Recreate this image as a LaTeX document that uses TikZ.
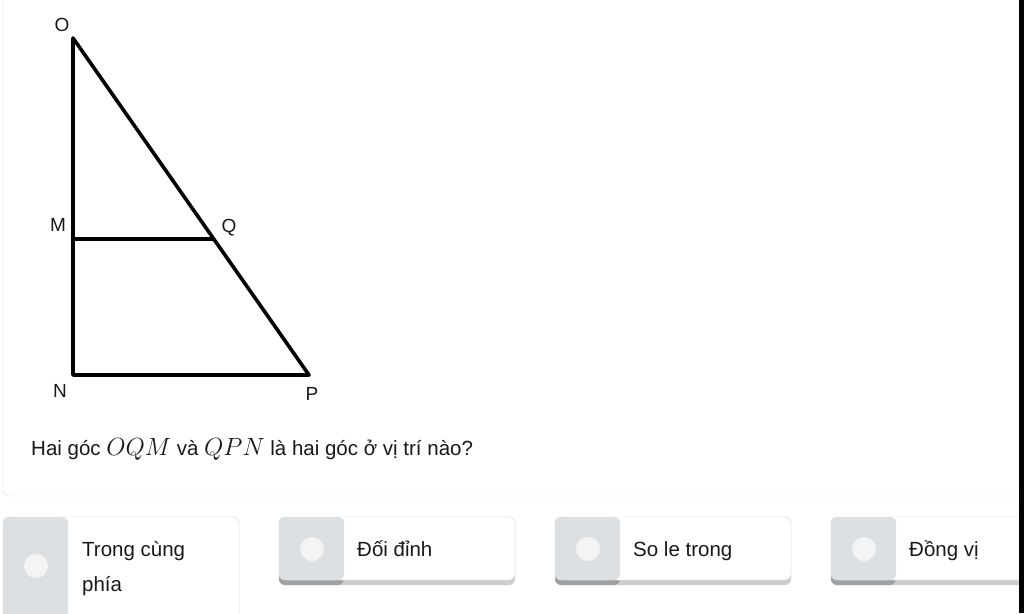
\documentclass[tikz,border=0pt]{standalone}
\usepackage{fontspec}
\setmainfont{Liberation Sans}
\usetikzlibrary{positioning}

\definecolor{panelline}{RGB}{218,218,218}
\definecolor{tabgray}{RGB}{221,224,227}
\definecolor{shadelight}{RGB}{205,205,205}
\definecolor{shadedark}{RGB}{160,160,160}
\definecolor{dotfill}{RGB}{244,244,244}
\definecolor{ink}{RGB}{25,25,25}

\tikzset{
  edge/.style={line width=3.6pt, line join=round},
  vlabel/.style={font=\fontsize{19}{21}\selectfont, inner sep=0pt, text=ink},
  answer/.style={anchor=base west, inner sep=0pt, font=\fontsize{20.5}{24}\selectfont, text=ink},
  dot/.style={circle, fill=dotfill, minimum size=24pt, inner sep=0pt},
  btn/.style={rounded corners=6pt, draw=panelline, fill=white,
    path picture={\fill[tabgray] (path picture bounding box.north west) rectangle ([xshift=65pt]path picture bounding box.south west);}},
  btnshade/.style={rounded corners=6pt, fill=shadelight,
    path picture={\fill[shadedark] (path picture bounding box.north west) rectangle ([xshift=65pt]path picture bounding box.south west);}}
}

\begin{document}
\begin{tikzpicture}[x=1pt,y=-1pt]
\clip (0,0) rectangle (1024,613);
\fill[white] (0,0) rectangle (1024,613);
\def\bw{236}
\def\bh{63}

% triangle
\coordinate (O) at (73,38);
\coordinate (M) at (73,239);
\coordinate (Q) at (213,239);
\coordinate (N) at (73,375);
\coordinate (P) at (309,375);
\draw[edge] (O) -- (N) -- (P) -- cycle;
\draw[edge] (M) -- (Q);
\node[vlabel] (lO) at (62,25) {O};
\node[vlabel] (lM) at (58,225) {M};
\node[vlabel] (lQ) at (229,228) {Q};
\node[vlabel] (lN) at (60,391) {N};
\node[vlabel] (lP) at (312,394) {P};

% question panel
\draw[panelline, rounded corners=6pt] (3,-20) -- (3,496) -- (1040,496);
\node[anchor=base west, inner sep=0pt, text=ink, font=\fontsize{20.5}{24}\selectfont] (quest) at (31,455)
  {Hai góc {\fontsize{24.5}{28}\selectfont$OQM$} và {\fontsize{24.5}{28}\selectfont$QPN$} là hai góc ở vị trí nào?};

% answers
\path[btnshade] (3,517) rectangle +(\bw,110);
\path[btn] (3,517) rectangle +(\bw,105);
\node[dot] (d1) at (36,566) {};
\node[answer] (a1) at (82,556) {Trong cùng};
\node[answer] (a1b) at ([yshift=-35pt]a1.base west) {phía};

\path[btnshade] (279,517) rectangle +(\bw,\bh+5);
\path[btn] (279,517) rectangle +(\bw,\bh);
\node[dot] (d2) at (312,549) {};
\node[answer] (a2) at (357,556) {Đối đỉnh};

\path[btnshade] (555,517) rectangle +(\bw,\bh+5);
\path[btn] (555,517) rectangle +(\bw,\bh);
\node[dot] (d3) at (588,549) {};
\node[answer] (a3) at (633,556) {So le trong};

\path[btnshade] (831,517) rectangle +(\bw,\bh+5);
\path[btn] (831,517) rectangle +(\bw,\bh);
\node[dot] (d4) at (864,549) {};
\node[answer] (a4) at (909,556) {Đồng vị};

% right edge
\fill[black] (1019,0) rectangle (1024,613);
\end{tikzpicture}
\end{document}
